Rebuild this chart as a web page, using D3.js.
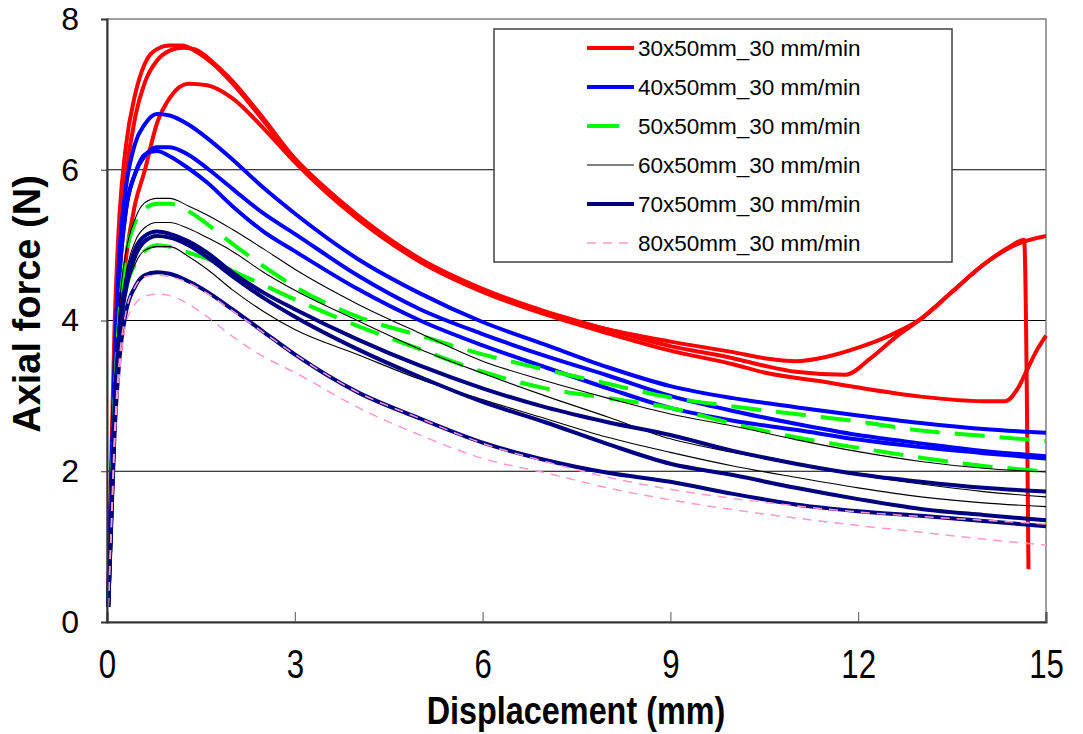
<!DOCTYPE html>
<html><head><meta charset="utf-8">
<script src="https://cdn.jsdelivr.net/npm/d3@7/dist/d3.min.js"></script>
<style>body{margin:0;background:#fff}</style>
</head><body><svg id="c" width="1083" height="734"></svg>
<script>
// ---- data ----
const legendLabels = ["30x50mm_30 mm/min","40x50mm_30 mm/min","50x50mm_30 mm/min","60x50mm_30 mm/min","70x50mm_30 mm/min","80x50mm_30 mm/min"];
const xTicks = [0,3,6,9,12,15];
const yTicks = [0,2,4,6,8];

// common displacement grid (mm) used by most replicate curves
const gridX = [0.02,0.06,0.12,0.2,0.3,0.45,0.6,0.8,1.0,1.3,1.6,2,2.5,3,4,5,6,7,8,9,10,11,12,13,14,15];

// 30x50 (three replicates, own x positions)
const red1X = [0.02,0.06,0.12,0.2,0.3,0.45,0.6,0.8,1.0,1.2,1.4,1.7,2,2.5,3,3.5,4,5,6,7,8,9,10,10.5,11,11.5,12,12.5,13,13.5,14,14.5,15];
const red1Y = [0.25,1.8,3.9,5.4,6.3,7.0,7.4,7.6,7.65,7.65,7.58,7.4,7.15,6.65,6.12,5.72,5.38,4.8,4.4,4.1,3.88,3.72,3.58,3.5,3.46,3.52,3.64,3.8,4.02,4.38,4.74,5.0,5.12];
const red2X = [0.02,0.06,0.12,0.2,0.3,0.45,0.6,0.8,1.0,1.2,1.4,1.7,2,2.5,3,3.5,4,5,6,7,8,9,10,10.5,11,11.8,12.2,12.6,13,13.5,14,14.4,14.65,14.72];
const red2Y = [0.25,1.6,3.5,5.0,5.9,6.7,7.15,7.45,7.58,7.62,7.6,7.42,7.18,6.68,6.15,5.75,5.4,4.82,4.42,4.12,3.88,3.66,3.5,3.4,3.32,3.28,3.5,3.78,4.02,4.38,4.74,4.97,5.07,0.7];
const red3X = [0.02,0.06,0.12,0.2,0.3,0.45,0.6,0.8,1.0,1.3,1.6,2,2.5,3,3.5,4,5,6,7,8,9,10,10.5,11.5,12,13,14,14.35,14.55,14.7,14.85,15];
const red3Y = [0.25,1.2,2.6,3.9,4.8,5.55,5.98,6.62,6.95,7.14,7.12,6.95,6.55,6.1,5.7,5.35,4.78,4.38,4.08,3.83,3.6,3.42,3.31,3.18,3.11,2.99,2.93,2.93,3.1,3.35,3.6,3.8];

// 40x50
const blue1Y = [0.25,1.6,3.4,4.9,5.75,6.35,6.6,6.74,6.72,6.6,6.42,6.14,5.76,5.42,4.82,4.36,3.98,3.68,3.38,3.13,2.97,2.85,2.74,2.64,2.56,2.51];
const blue2Y = [0.25,1.5,3.2,4.6,5.45,5.95,6.18,6.3,6.3,6.2,6.02,5.75,5.42,5.15,4.6,4.15,3.82,3.53,3.27,3.0,2.8,2.63,2.48,2.37,2.27,2.2];
const blue3Y = [0.25,1.5,3.2,4.6,5.45,5.95,6.2,6.25,6.18,6.02,5.83,5.52,5.18,4.92,4.42,4.0,3.67,3.38,3.1,2.84,2.67,2.55,2.42,2.32,2.24,2.17];

// 50x50
const green1Y = [0.2,1.3,2.9,4.1,4.85,5.3,5.48,5.55,5.55,5.45,5.28,5.02,4.72,4.45,4.05,3.8,3.55,3.35,3.16,2.98,2.86,2.76,2.66,2.54,2.47,2.4];
const green2Y = [0.2,1.2,2.7,3.8,4.4,4.75,4.92,5.0,4.98,4.9,4.82,4.66,4.47,4.28,3.93,3.62,3.32,3.1,2.97,2.84,2.63,2.45,2.31,2.18,2.07,2.0];

// 60x50
const black1Y = [0.2,1.3,2.9,4.2,4.9,5.35,5.56,5.62,5.62,5.52,5.4,5.21,4.95,4.68,4.22,3.83,3.46,3.2,2.97,2.76,2.6,2.42,2.26,2.13,2.04,1.99];
const black2Y = [0.2,1.2,2.7,3.9,4.6,5.05,5.23,5.3,5.3,5.22,5.1,4.92,4.64,4.4,4.0,3.62,3.3,3.0,2.72,2.43,2.25,2.1,1.95,1.83,1.73,1.66];
const black3Y = [0.2,1.1,2.6,3.7,4.35,4.75,4.93,4.98,4.98,4.85,4.68,4.41,4.12,3.88,3.55,3.22,2.95,2.7,2.45,2.25,2.07,1.92,1.78,1.66,1.58,1.53];

// 70x50
const navy1Y = [0.2,1.2,2.8,3.9,4.5,4.95,5.12,5.18,5.15,5.05,4.9,4.64,4.37,4.15,3.75,3.4,3.1,2.85,2.65,2.48,2.27,2.1,1.96,1.86,1.78,1.73];
const navy2Y = [0.2,1.2,2.7,3.8,4.4,4.85,5.05,5.12,5.1,5.0,4.84,4.59,4.3,4.05,3.62,3.25,2.92,2.65,2.36,2.1,1.95,1.78,1.63,1.5,1.42,1.35];
const navy3Y = [0.2,1.1,2.5,3.5,4.1,4.45,4.6,4.64,4.62,4.52,4.38,4.15,3.85,3.55,3.05,2.7,2.38,2.15,1.98,1.86,1.7,1.56,1.47,1.41,1.34,1.27];

// 80x50
const pink1Y = [0.2,1.1,2.5,3.5,4.1,4.45,4.58,4.6,4.58,4.5,4.36,4.13,3.84,3.55,3.05,2.7,2.37,2.13,1.92,1.76,1.64,1.54,1.46,1.4,1.35,1.3];
const pink2Y = [0.2,1.0,2.3,3.3,3.95,4.22,4.32,4.35,4.33,4.22,4.05,3.79,3.52,3.31,2.85,2.48,2.17,1.98,1.78,1.62,1.49,1.38,1.28,1.19,1.1,1.02];

// ---- styles (separate from data) ----
const styles = [
  {color:"#FF0000", width:4,   dash:null},
  {color:"#0000FF", width:4,   dash:null},
  {color:"#00FF00", width:4,   dash:"30,15"},
  {color:"#000000", width:1.1, dash:null},
  {color:"#000080", width:4,   dash:null},
  {color:"#FF99CC", width:1.5, dash:"9,7"}
];

const zip = (xs, ys) => xs.map((x, i) => [x, ys[i]]);
const seriesCurves = [
  [zip(red1X, red1Y), zip(red2X, red2Y), zip(red3X, red3Y)],
  [zip(gridX, blue1Y), zip(gridX, blue2Y), zip(gridX, blue3Y)],
  [zip(gridX, green1Y), zip(gridX, green2Y)],
  [zip(gridX, black1Y), zip(gridX, black2Y), zip(gridX, black3Y)],
  [zip(gridX, navy1Y), zip(gridX, navy2Y), zip(gridX, navy3Y)],
  [zip(gridX, pink1Y), zip(gridX, pink2Y)]
];

// ---- drawing ----
const svg = d3.select("#c");
const L = 107, R = 1046, T = 19, B = 622;
const x = d3.scaleLinear().domain([0, 15]).range([L, R]);
const y = d3.scaleLinear().domain([0, 8]).range([B, T]);

// gridlines
svg.append("g").selectAll("line").data(yTicks.filter(v => v > 0 && v < 8)).join("line")
  .attr("x1", L).attr("x2", R).attr("y1", d => y(d)).attr("y2", d => y(d))
  .attr("stroke", "#000").attr("stroke-width", 1);

// frame (top/right grey)
svg.append("rect").attr("x", L).attr("y", T).attr("width", R - L).attr("height", B - T)
  .attr("fill", "none").attr("stroke", "#808080").attr("stroke-width", 1.5);

// curves
const line = d3.line().x(d => x(d[0])).y(d => y(d[1])).curve(d3.curveMonotoneX);
const plot = svg.append("g");
seriesCurves.forEach((curves, i) => {
  const st = styles[i];
  plot.append("g").selectAll("path").data(curves).join("path")
    .attr("d", line).attr("fill", "none")
    .attr("stroke", st.color).attr("stroke-width", st.width)
    .attr("stroke-dasharray", st.dash)
    .attr("stroke-linejoin", "round");
});

// axes
const font = "'Liberation Sans', Arial, sans-serif";
const xAxis = d3.axisBottom(x).tickValues(xTicks).tickSize(-10).tickPadding(28).tickFormat(d3.format("d"));
const gx = svg.append("g").attr("transform", `translate(0,${B})`).call(xAxis);
gx.select(".domain").attr("stroke", "#333").attr("stroke-width", 2);
gx.selectAll(".tick line").attr("stroke", "#555");
gx.selectAll("text").attr("font-family", font)
  .attr("font-size", 40).attr("fill", "#000").attr("dy", "0.71em")
  .attr("transform", "scale(0.78,1)");

const yAxis = d3.axisLeft(y).tickValues(yTicks).tickSize(6).tickPadding(22).tickFormat(d3.format("d"));
const gy = svg.append("g").attr("transform", `translate(${L},0)`).call(yAxis);
gy.select(".domain").attr("stroke", "#333").attr("stroke-width", 2);
gy.selectAll(".tick line").attr("stroke", "#333");
gy.selectAll("text").attr("font-family", font).attr("font-size", 32).attr("fill", "#000");

// axis titles
svg.append("g").attr("transform", "translate(576,724)")
  .append("text").attr("text-anchor", "middle").attr("transform", "scale(0.83,1)")
  .attr("font-family", font).attr("font-weight", "bold").attr("font-size", 39).text("Displacement (mm)");
svg.append("text").attr("transform", "translate(40,304) rotate(-90)").attr("text-anchor", "middle")
  .attr("font-family", font).attr("font-weight", "bold").attr("font-size", 38).text("Axial force (N)");

// legend
const lg = svg.append("g");
lg.append("rect").attr("x", 494).attr("y", 29).attr("width", 458).attr("height", 233)
  .attr("fill", "#fff").attr("stroke", "#404040").attr("stroke-width", 1.5);
const rows = lg.selectAll("g.row").data(legendLabels).join("g").attr("class", "row")
  .attr("transform", (d, i) => `translate(0,${48 + i * 39})`);
rows.append("line").attr("x1", 587).attr("x2", 634).attr("y1", 0).attr("y2", 0)
  .attr("stroke", (d, i) => styles[i].color).attr("stroke-width", (d, i) => styles[i].width)
  .attr("stroke-dasharray", (d, i) => i === 2 ? "32,20" : styles[i].dash);
rows.append("text").attr("x", 638).attr("y", 8).attr("font-family", font).attr("font-size", 22.5)
  .attr("fill", "#000").text(d => d);
</script></body></html>
